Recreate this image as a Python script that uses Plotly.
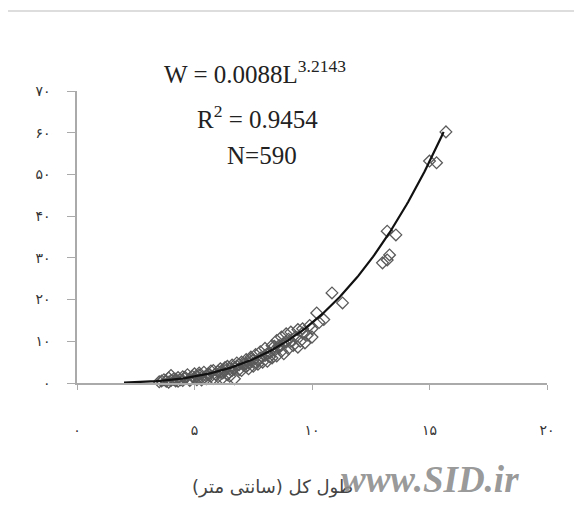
import numpy as np
import plotly.graph_objects as go

length_cm = [3.6, 3.7, 3.8, 3.9, 4.0, 4.0, 4.1, 4.2, 4.3, 4.4, 4.5, 4.5, 4.6, 4.7, 4.8, 4.9,
             5.0, 5.0, 5.1, 5.2, 5.3, 5.4, 5.5, 5.5, 5.6, 5.7, 5.8, 5.9, 6.0, 6.0, 6.1, 6.2,
             6.3, 6.4, 6.4, 6.5, 6.6, 6.7, 6.7, 6.8, 6.9, 7.0, 7.0, 7.1, 7.2, 7.3, 7.3, 7.4,
             7.5, 7.5, 7.6, 7.7, 7.8, 7.8, 7.9, 8.0, 8.0, 8.1, 8.2, 8.3, 8.3, 8.4, 8.5, 8.5,
             8.6, 8.7, 8.8, 8.8, 8.9, 9.0, 9.0, 9.1, 9.2, 9.3, 9.4, 9.4, 9.5, 9.6, 9.7, 9.8,
             9.9, 10.0, 10.0, 10.2, 10.3, 10.5, 10.85, 11.3, 13.0, 13.2, 13.3, 13.2, 13.57,
             15.0, 15.3, 15.7,
             4.2, 4.6, 5.1, 5.6, 6.1, 6.6, 7.1, 7.6, 8.1, 8.6, 9.1, 9.6, 6.9, 7.4, 8.4, 8.9,
             3.5, 3.9, 4.3, 4.8, 5.3, 5.8, 6.2, 6.5, 5.2, 5.7, 6.3, 6.8, 7.2, 7.7, 8.2, 8.7]
weight_g = [0.5, 0.8, 0.4, 1.2, 0.6, 1.8, 0.9, 0.5, 1.3, 0.8, 1.5, 0.6, 1.1, 2.0, 0.9, 1.6,
            1.2, 2.2, 0.8, 1.9, 1.4, 2.6, 1.7, 1.0, 2.3, 1.6, 3.0, 2.1, 2.8, 1.5, 3.4, 2.4,
            3.0, 4.0, 2.0, 3.3, 4.3, 1.0, 3.6, 4.8, 3.2, 5.0, 3.0, 4.2, 5.6, 3.4, 4.8, 6.2,
            4.0, 5.5, 6.8, 4.5, 6.0, 7.5, 5.0, 6.6, 8.3, 5.2, 7.2, 9.0, 6.0, 7.8, 10.2, 6.5,
            8.5, 11.0, 7.0, 9.6, 11.8, 8.2, 10.5, 12.2, 9.0, 11.0, 12.8, 8.6, 10.0, 12.0, 9.6, 11.5,
            13.8, 11.0, 13.0, 16.8, 14.5, 15.2, 21.6, 19.2, 28.8, 29.5, 30.7, 36.4, 35.5,
            53.2, 52.8, 60.2,
            0.9, 1.4, 1.5, 2.0, 2.6, 3.0, 4.6, 5.0, 7.0, 9.0, 10.0, 13.0, 4.4, 5.8, 8.8, 9.8,
            0.3, 0.2, 0.4, 0.6, 0.7, 1.1, 1.2, 1.6, 2.4, 2.9, 3.7, 4.1, 3.9, 5.3, 6.3, 7.6]

# Fitted power curve W = a * L^b
coef_a = 0.0088
coef_b = 3.2143
curve_start, curve_end = 2.0, 15.6

x_ticks = [0, 5, 10, 15, 20]
x_tick_text = ["۰", "۵", "۱۰", "۱۵", "۲۰"]
y_ticks = [0, 10, 20, 30, 40, 50, 60, 70]
y_tick_text = ["۰", "۱۰", "۲۰", "۳۰", "۴۰", "۵۰", "۶۰", "۷۰"]

x_title = "طول کل (سانتی متر)"

curve_L = np.linspace(curve_start, curve_end, 200)
curve_W = coef_a * curve_L ** coef_b

fig = go.Figure()
fig.add_trace(go.Scatter(
    x=length_cm, y=weight_g, mode="markers",
    marker=dict(symbol="diamond-open", size=9, color="#5a5a5a", line=dict(width=1.3)),
    showlegend=False, cliponaxis=False))
fig.add_trace(go.Scatter(
    x=curve_L, y=curve_W, mode="lines",
    line=dict(color="#111111", width=2.2), showlegend=False, cliponaxis=False))

W, H = 582, 514
OFF = 8  # page offset of the figure inside the browser window
l, r, t, b = 69, 43, 83, 139
pw, ph = W - l - r, H - t - b
PL, PB = OFF + l, OFF + H - b  # page pixel of plot left / bottom


def px(xp):
    return (xp - PL) / pw


def py(yp):
    return (PB - yp) / ph


serif = "Liberation Serif, Times New Roman, serif"


def note(x, y, text, font):
    fig.add_annotation(x=px(x), y=py(y), xref="paper", yref="paper", text=text,
                       showarrow=False, xanchor="center", yanchor="middle", font=font)


note(255, 72, "W = 0.0088L<sup>3.2143</sup>", dict(family=serif, size=25, color="#222"))
note(257, 117, "R<sup>2</sup> = 0.9454", dict(family=serif, size=25, color="#222"))
note(262, 155, "N=590", dict(family=serif, size=25, color="#222"))
note(272, 487, x_title, dict(family="DejaVu Sans, sans-serif", size=18, color="#444"))
note(430, 479, "<b><i>www.SID.ir</i></b>",
     dict(family=serif, size=37, color="rgba(140,140,140,0.9)"))

fig.add_shape(type="line", xref="paper", yref="paper",
              x0=px(5), x1=px(577), y0=py(11), y1=py(11),
              line=dict(color="#dddddd", width=2))

fig.update_xaxes(range=[0, 20], tickvals=x_ticks, ticktext=x_tick_text,
                 showgrid=False, zeroline=False, showline=True, linecolor="#aaaaaa",
                 linewidth=1.5, ticks="outside", ticklen=5, tickcolor="#aaaaaa",
                 ticklabelstandoff=28,
                 tickfont=dict(family="DejaVu Sans, sans-serif", size=14, color="#333"))
fig.update_yaxes(range=[0, 70], tickvals=y_ticks, ticktext=y_tick_text,
                 showgrid=False, zeroline=False, showline=True, linecolor="#aaaaaa",
                 linewidth=1.5, ticks="outside", ticklen=8, tickcolor="#aaaaaa",
                 ticklabelstandoff=14,
                 tickfont=dict(family="DejaVu Sans, sans-serif", size=14, color="#333"))

fig.update_layout(width=W, height=H, margin=dict(l=l, r=r, t=t, b=b),
                  paper_bgcolor="white", plot_bgcolor="white")

fig.write_html("out.html")
